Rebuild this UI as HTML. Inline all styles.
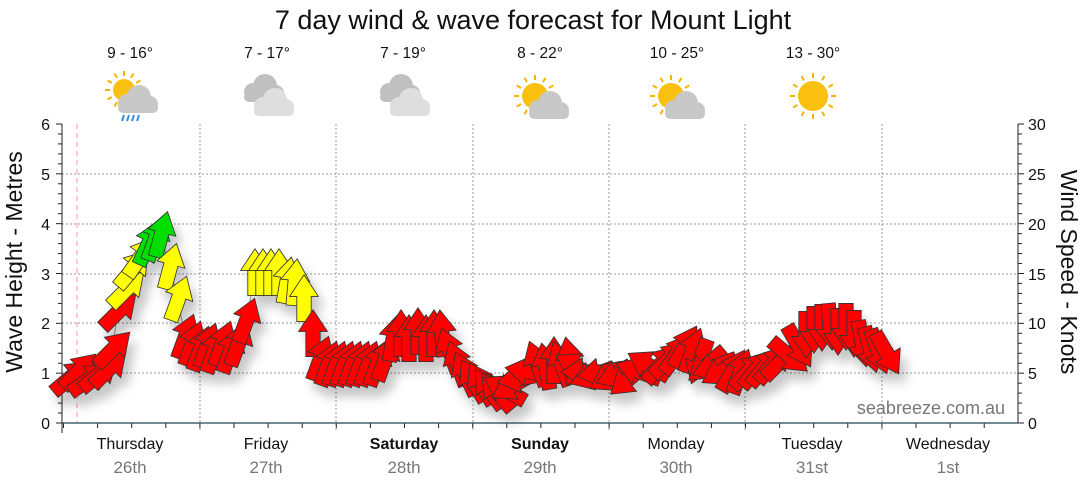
<!DOCTYPE html>
<html><head><meta charset="utf-8"><style>
body{margin:0;background:#fff;}
svg{display:block;font-family:"Liberation Sans",sans-serif;}
</style></head><body>
<svg id="s" width="1080" height="490" viewBox="0 0 1080 490">
<defs>
<filter id="sh" x="-50%" y="-50%" width="200%" height="200%"><feDropShadow dx="6" dy="10" stdDeviation="5" flood-color="#000" flood-opacity="0.22"/></filter>
</defs>
<text x="533" y="29" font-size="27" text-anchor="middle" fill="#111">7 day wind &amp; wave forecast for Mount Light</text>
<g font-size="15.5" text-anchor="middle" fill="#111">
<text x="130" y="58">9 - 16°</text><text x="267" y="58">7 - 17°</text><text x="403" y="58">7 - 19°</text>
<text x="540" y="58">8 - 22°</text><text x="677" y="58">10 - 25°</text><text x="813" y="58">13 - 30°</text>
</g>
<g id="icons"></g>
<g stroke="#999" stroke-dasharray="2,2" stroke-width="1">
<line x1="62" x2="1018" y1="373" y2="373"/><line x1="62" x2="1018" y1="323" y2="323"/>
<line x1="62" x2="1018" y1="274" y2="274"/><line x1="62" x2="1018" y1="224" y2="224"/>
<line x1="62" x2="1018" y1="174" y2="174"/>
<line x1="200" x2="200" y1="124" y2="432"/><line x1="336" x2="336" y1="124" y2="432"/>
<line x1="473" x2="473" y1="124" y2="432"/><line x1="609" x2="609" y1="124" y2="432"/>
<line x1="745" x2="745" y1="124" y2="432"/><line x1="882" x2="882" y1="124" y2="432"/>
</g>
<line x1="77" x2="77" y1="124" y2="423" stroke="#f99" stroke-dasharray="5,4"/>
<g id="axes" stroke="#222" stroke-width="1"></g>
<line x1="62" x2="1018" y1="423" y2="423" stroke="#245" stroke-width="1.2"/>
<g font-size="16" fill="#111" text-anchor="end">
<text x="50" y="429">0</text><text x="50" y="379">1</text><text x="50" y="329">2</text><text x="50" y="280">3</text><text x="50" y="230">4</text><text x="50" y="180">5</text><text x="50" y="130">6</text>
</g>
<g font-size="16" fill="#111" text-anchor="start">
<text x="1028" y="429">0</text><text x="1028" y="379">5</text><text x="1028" y="329">10</text><text x="1028" y="280">15</text><text x="1028" y="230">20</text><text x="1028" y="180">25</text><text x="1028" y="130">30</text>
</g>
<text transform="translate(22,262) rotate(-90)" font-size="23" text-anchor="middle" fill="#111">Wave Height - Metres</text>
<text transform="translate(1061,272) rotate(90)" font-size="23" text-anchor="middle" fill="#111">Wind Speed - Knots</text>
<g font-size="16" text-anchor="middle" fill="#111">
<text x="130" y="449">Thursday</text><text x="266" y="449">Friday</text><text x="404" y="449" font-weight="bold">Saturday</text>
<text x="540" y="449" font-weight="bold">Sunday</text><text x="676" y="449">Monday</text><text x="812" y="449">Tuesday</text><text x="948" y="449">Wednesday</text>
</g>
<g font-size="17" text-anchor="middle" fill="#777">
<text x="130" y="473">26th</text><text x="266" y="473">27th</text><text x="404" y="473">28th</text>
<text x="540" y="473">29th</text><text x="676" y="473">30th</text><text x="812" y="473">31st</text><text x="948" y="473">1st</text>
</g>
<text x="1005" y="414" font-size="18" text-anchor="end" fill="#777">seabreeze.com.au</text>
<polyline id="ln" fill="none" stroke="#999" stroke-width="1"/>
<g id="arr" filter="url(#sh)" stroke="#333" stroke-width="0.7" stroke-linejoin="miter"></g>
</svg>
<script>
var NS="http://www.w3.org/2000/svg";
function el(t,a,p){var e=document.createElementNS(NS,t);for(var k in a)e.setAttribute(k,a[k]);p.appendChild(e);return e;}
var ax=document.getElementById('axes');
el('line',{x1:62,x2:62,y1:124,y2:433},ax);el('line',{x1:1018,x2:1018,y1:124,y2:423},ax);
for(var i=0;i<=30;i++){var y=423-i*9.967;var l=(i%5==0)?6:4;
 el('line',{x1:62-l,x2:62,y1:y,y2:y},ax);el('line',{x1:1018,x2:1018+l,y1:y,y2:y},ax);}
for(var x=63.5;x<1018;x+=34.1){el('line',{x1:x,x2:x,y1:423,y2:428},ax);}
var ic=document.getElementById('icons');
function cloud(cx,cy,c){el('circle',{cx:cx-9,cy:cy+2,r:9,fill:c},ic);el('circle',{cx:cx+3,cy:cy-4,r:12,fill:c},ic);el('circle',{cx:cx+14,cy:cy+3,r:8,fill:c},ic);el('rect',{x:cx-18,y:cy+2,width:40,height:10,rx:5,fill:c},ic);}
function sun(cx,cy,r){for(var a=0;a<360;a+=30){var rd=a*Math.PI/180;el('line',{x1:cx+Math.cos(rd)*(r+3),y1:cy+Math.sin(rd)*(r+3),x2:cx+Math.cos(rd)*(r+8),y2:cy+Math.sin(rd)*(r+8),stroke:'#f5b400','stroke-width':2},ic);}el('circle',{cx:cx,cy:cy,r:r,fill:'#f9c010'},ic);}
sun(124,90,11);cloud(136,101,'#c8c8c8');for(var k=0;k<4;k++)el('line',{x1:124+k*5,y1:115,x2:122+k*5,y2:121,stroke:'#3a8fe0','stroke-width':2},ic);
cloud(262,90,'#c0c0c0');cloud(272,104,'#dedede');
cloud(398,90,'#c0c0c0');cloud(408,104,'#dedede');
sun(535,96,13);cloud(547,107,'#c8c8c8');
sun(671,96,13);cloud(683,107,'#c8c8c8');
sun(813,96,15);
var R='#ff0000',Y='#ffff00',G='#00dd00';
var D=[[70,378,50,R],[78,372,45,R],[88,380,55,R],[98,375,50,R],[108,370,45,R],[112,350,45,R],[118,312,45,R],[126,290,45,Y],[132,270,40,Y],[140,258,35,Y],[148,245,25,G],[155,240,20,G],[161,236,15,G],[170,268,15,Y],[178,300,20,Y],
[185,338,20,R],[192,345,20,R],[200,350,20,R],[207,347,20,R],[214,352,20,R],[222,345,20,R],[230,352,20,R],[238,345,20,R],[246,322,20,R],
[255,274,0,Y],[263,274,0,Y],[271,274,0,Y],[279,274,0,Y],[287,282,10,Y],[295,284,5,Y],[304,300,0,Y],[313,335,0,R],
[320,360,20,R],[328,365,20,R],[336,365,20,R],[344,365,20,R],[352,365,20,R],[360,365,20,R],[368,365,20,R],[377,365,20,R],[385,360,20,R],
[393,340,10,R],[401,335,0,R],[409,340,0,R],[418,333,0,R],[426,340,0,R],[434,335,0,R],[442,335,-5,R],[450,352,-20,R],[458,365,-20,R],
[466,375,-25,R],[474,382,-30,R],[482,385,-30,R],[490,390,-35,R],[498,393,-40,R],[506,390,-60,R],[514,385,-120,R],[522,378,-100,R],[530,372,-80,R],
[538,365,-20,R],[546,368,-10,R],[554,362,0,R],[562,365,-20,R],[570,362,-10,R],[578,368,-60,R],[586,372,-90,R],[594,375,-110,R],[602,372,-100,R],
[612,376,-120,R],[620,374,-110,R],[630,378,-130,R],[640,372,-70,R],[650,366,-60,R],[660,365,40,R],[668,360,45,R],[676,355,35,R],[684,348,30,R],
[692,352,20,R],[700,360,200,R],[708,364,230,R],[716,366,250,R],[724,370,240,R],[732,372,30,R],[740,373,20,R],[748,372,45,R],[756,370,40,R],
[764,368,40,R],[772,365,40,R],[780,362,45,R],[788,355,130,R],[798,345,150,R],[806,333,180,R],[814,328,180,R],[822,326,180,R],[830,325,175,R],
[838,330,180,R],[846,325,180,R],[854,332,180,R],[862,342,170,R],[870,348,165,R],[878,350,160,R],[886,352,150,R]];
var g=document.getElementById('arr'),pts=[];
var shape="-6,18 6,18 6,-3 12,-3 0,-21 -12,-3 -6,-3";
D.forEach(function(d){pts.push(d[0]+','+d[1]);el('polygon',{points:shape,fill:d[3],transform:'translate('+d[0]+','+d[1]+') rotate('+d[2]+') scale(1.2)'},g);});
document.getElementById('ln').setAttribute('points',pts.join(' '));
</script>
</body></html>
